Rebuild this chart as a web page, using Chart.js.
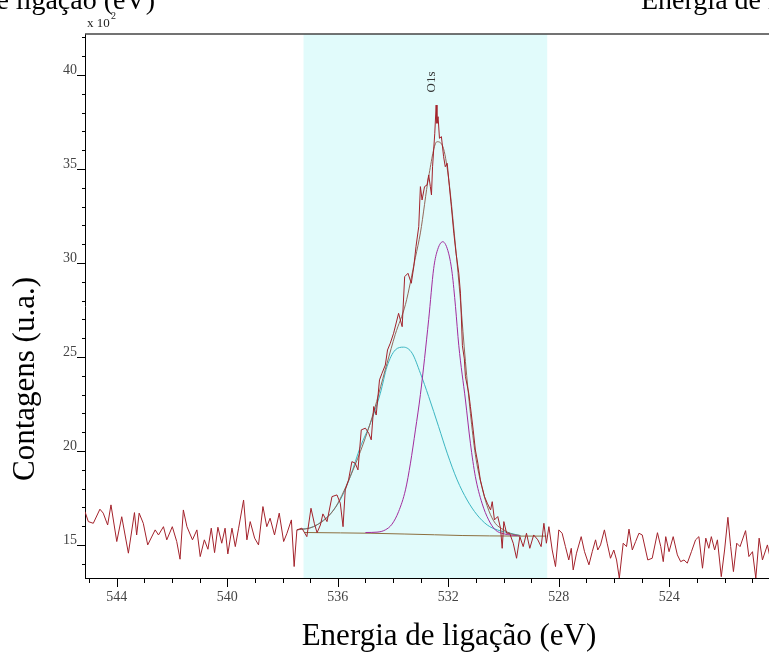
<!DOCTYPE html>
<html>
<head>
<meta charset="utf-8">
<script src="https://cdn.jsdelivr.net/npm/chart.js@4.4.1/dist/chart.umd.min.js"></script>
<style>
  html, body { margin: 0; padding: 0; overflow: hidden; background: #fff; }
  #wrap { width: 815px; height: 653px; }
</style>
</head>
<body>
<div id="wrap"><canvas id="xps" width="815" height="653"></canvas></div>
<script>
// O1s region, binding energy (eV) vs counts (x 10^2)
const rawEnergy = [545.15, 545.03, 544.85, 544.61, 544.49, 544.33, 544.21, 544.00, 543.82, 543.58,
  543.36, 543.28, 543.19, 543.04, 542.88, 542.61, 542.49, 542.31, 542.19, 541.99,
  541.83, 541.71, 541.59, 541.46, 541.26, 541.10, 540.98, 540.83, 540.70, 540.58,
  540.46, 540.34, 540.20, 540.08, 539.98, 539.83, 539.71, 539.59, 539.41, 539.29,
  539.17, 539.01, 538.87, 538.71, 538.57, 538.45, 538.29, 538.12, 537.96, 537.84,
  537.68, 537.58, 537.48, 537.30, 537.12, 536.97, 536.85, 536.75, 536.63, 536.54,
  536.39, 536.21, 536.03, 535.91, 535.81, 535.73, 535.61, 535.49, 535.37, 535.27,
  535.15, 535.00, 534.88, 534.79, 534.70, 534.61, 534.49, 534.40, 534.28, 534.20,
  534.10, 533.98, 533.80, 533.67, 533.58, 533.46, 533.34, 533.25, 533.17, 533.07,
  533.01, 532.95, 532.86, 532.77, 532.71, 532.65, 532.61, 532.57, 532.49, 532.44,
  532.41, 532.37, 532.32, 532.25, 532.17, 532.11, 532.04, 531.96, 531.89, 531.80,
  531.72, 531.62, 531.56, 531.49, 531.42, 531.38, 531.26, 531.20, 531.10, 531.02,
  530.93, 530.84, 530.78, 530.69, 530.59, 530.47, 530.41, 530.33, 530.21, 530.11,
  530.05, 529.99, 529.89, 529.78, 529.65, 529.53, 529.41, 529.29, 529.17, 529.05,
  528.91, 528.76, 528.64, 528.54, 528.45, 528.36, 528.24, 528.12, 528.00, 527.88,
  527.76, 527.64, 527.55, 527.48, 527.36, 527.19, 527.07, 526.91, 526.79, 526.67,
  526.59, 526.49, 526.35, 526.25, 526.13, 526.01, 525.91, 525.81, 525.67, 525.55,
  525.46, 525.34, 525.22, 525.10, 524.98, 524.78, 524.62, 524.43, 524.31, 524.22,
  524.13, 524.01, 523.86, 523.71, 523.59, 523.47, 523.35, 523.20, 523.05, 522.93,
  522.80, 522.68, 522.57, 522.48, 522.36, 522.26, 522.12, 522.00, 521.88, 521.78,
  521.68, 521.56, 521.44, 521.24, 521.12, 520.99, 520.87, 520.75, 520.63, 520.45,
  520.36];
const rawCounts = [16.77, 16.24, 16.15, 16.90, 16.69, 16.06, 17.13, 15.18, 16.50, 14.56,
  16.72, 15.53, 16.69, 16.15, 15.00, 15.80, 15.53, 15.97, 15.27, 15.97,
  15.18, 14.24, 16.86, 15.97, 15.27, 15.80, 14.38, 15.27, 14.77, 15.89,
  14.59, 15.94, 15.09, 15.89, 14.52, 15.89, 14.91, 15.89, 17.39, 15.27,
  16.24, 15.36, 15.00, 17.04, 15.97, 16.42, 15.53, 16.69, 15.18, 15.62,
  16.33, 13.85, 15.80, 15.89, 15.44, 16.95, 16.15, 15.65, 16.06, 16.65,
  16.24, 17.57, 17.66, 17.22, 15.97, 17.93, 18.46, 19.43, 19.35, 18.99,
  21.12, 21.21, 20.94, 20.59, 22.36, 21.91, 23.78, 24.13, 24.57, 25.37,
  25.73, 26.26, 27.32, 26.61, 29.27, 29.45, 28.92, 29.80, 30.87, 31.93,
  34.06, 33.35, 34.06, 34.15, 34.68, 34.06, 33.62, 35.12, 36.90, 38.40,
  37.43, 37.78, 36.63, 36.72, 35.65, 35.12, 35.30, 34.06, 33.00, 31.58,
  30.52, 29.45, 28.39, 25.60, 24.90, 23.95, 23.07, 22.36, 21.12, 20.05,
  19.35, 18.46, 18.10, 17.57, 17.22, 16.86, 17.30, 16.33, 16.51, 15.89,
  14.82, 16.24, 15.62, 15.62, 15.09, 14.29, 15.44, 14.91, 15.62, 14.82,
  15.53, 15.27, 14.91, 16.15, 15.09, 15.97, 14.73, 13.85, 15.80, 15.62,
  14.91, 14.20, 14.82, 13.67, 14.56, 15.44, 14.64, 13.94, 14.64, 15.27,
  14.73, 15.00, 15.80, 15.09, 14.29, 14.73, 14.20, 13.23, 15.09, 14.91,
  15.84, 14.73, 15.18, 15.62, 15.53, 14.20, 14.29, 15.65, 14.91, 14.11,
  15.44, 14.64, 15.44, 14.47, 14.11, 14.20, 14.03, 14.64, 15.27, 15.44,
  13.76, 15.36, 14.82, 15.44, 14.73, 15.27, 13.31, 14.73, 16.47, 14.91,
  13.58, 15.09, 14.91, 15.76, 14.38, 14.64, 13.23, 15.36, 14.20, 15.00,
  14.38];

// fitted envelope
const envEnergy = [537.48, 536.88, 536.15, 535.55, 534.82, 534.22, 533.92, 533.55, 533.19, 533.01,
  532.71, 532.41, 532.20, 531.99, 531.74, 531.56, 531.38, 531.20, 531.02, 530.78,
  530.54, 530.30, 529.99, 529.75, 529.39];
const envCounts = [15.80, 15.97, 16.86, 18.63, 21.50, 24.65, 26.20, 27.80, 30.30, 31.60,
  34.60, 36.45, 36.20, 34.50, 30.90, 28.00, 24.75, 22.00, 19.80, 18.05,
  16.85, 16.15, 15.80, 15.60, 15.50];

// component 1 (cyan)
const compAEnergy = [537.48, 536.88, 536.51, 536.15, 535.85, 535.55, 535.18, 534.82, 534.46, 534.22,
  533.92, 533.62, 533.31, 533.01, 532.71, 532.35, 532.04, 531.68, 531.32, 530.96,
  530.59, 530.23, 529.75, 529.39];
const compACounts = [15.80, 15.97, 16.33, 16.86, 17.57, 18.63, 20.23, 21.47, 23.07, 24.48,
  25.37, 25.52, 25.20, 24.13, 22.89, 21.29, 19.88, 18.46, 17.39, 16.60,
  16.06, 15.80, 15.62, 15.49];

// component 2 (magenta)
const compBEnergy = [535.00, 534.58, 534.28, 534.04, 533.80, 533.55, 533.37, 533.19, 533.01, 532.71,
  532.53, 532.41, 532.20, 531.99, 531.86, 531.74, 531.62, 531.38, 531.20, 531.02,
  530.78, 530.54, 530.30, 529.99, 529.75, 529.40];
const compBCounts = [15.66, 15.68, 15.80, 16.10, 16.77, 17.93, 19.35, 21.12, 23.00, 27.00,
  29.70, 30.60, 31.13, 30.52, 29.45, 27.68, 25.60, 22.71, 20.41, 18.63,
  17.22, 16.33, 15.80, 15.59, 15.53, 15.48];

// background
const bgEnergy = [537.20, 535.90, 534.80, 533.60, 532.50, 531.50, 530.50, 529.50, 528.45];
const bgCounts = [15.66, 15.64, 15.62, 15.58, 15.54, 15.50, 15.48, 15.47, 15.47];

const region = [537.24, 528.42];
const xTickLabels = [544, 540, 536, 532, 528, 524];
const yTickLabels = [15, 20, 25, 30, 35, 40];
const peakName = 'O1s';
const peakLabelAt = 532.6;

const pts = (xs, ys) => xs.map((x, i) => ({x: x, y: ys[i]}));

const serif = '"Liberation Serif", "Times New Roman", serif';
Chart.defaults.font.family = serif;

const decor = {
  id: 'decor',
  beforeDatasetsDraw(chart) {
    const {ctx, chartArea: a, scales: {x}} = chart;
    const x0 = x.getPixelForValue(region[0]);
    const x1 = x.getPixelForValue(region[1]);
    ctx.save();
    ctx.fillStyle = '#e1fbfb';
    ctx.fillRect(x0, a.top, x1 - x0, a.bottom - a.top);
    ctx.restore();
  },
  afterDraw(chart) {
    const {ctx, chartArea: a, scales: {x, y}} = chart;
    ctx.save();
    // tick marks, long on labelled values
    ctx.strokeStyle = '#000';
    ctx.lineWidth = 1;
    ctx.beginPath();
    x.ticks.forEach(t => {
      const px = Math.round(x.getPixelForValue(t.value)) + 0.5;
      const len = t.value % 4 === 0 ? 9 : 5;
      ctx.moveTo(px, a.bottom);
      ctx.lineTo(px, a.bottom + len);
    });
    y.ticks.forEach(t => {
      const py = Math.round(y.getPixelForValue(t.value)) + 0.5;
      const len = t.value % 5 === 0 ? 8 : 3;
      ctx.moveTo(a.left, py);
      ctx.lineTo(a.left - len, py);
    });
    ctx.stroke();
    // top frame line
    ctx.strokeStyle = '#444';
    ctx.lineWidth = 1.5;
    ctx.beginPath();
    ctx.moveTo(a.left, a.top);
    ctx.lineTo(a.right, a.top);
    ctx.stroke();

    ctx.fillStyle = '#000';
    // captions of the neighbouring figures, cut by the page edge
    ctx.font = '28px ' + serif;
    ctx.textBaseline = 'alphabetic';
    ctx.textAlign = 'right';
    ctx.fillText('Energia de ligação (eV)', 155, 9);
    ctx.textAlign = 'left';
    ctx.fillText('Energia de ligação (eV)', 641, 9);

    // axis titles
    ctx.font = '31px ' + serif;
    ctx.textAlign = 'center';
    ctx.fillText('Energia de ligação (eV)', (a.left + a.right) / 2, 645);
    ctx.save();
    ctx.translate(34, 379);
    ctx.rotate(-Math.PI / 2);
    ctx.fillText('Contagens (u.a.)', 0, 0);
    ctx.restore();

    // multiplier
    ctx.fillStyle = '#222';
    ctx.textAlign = 'left';
    ctx.font = '13px ' + serif;
    ctx.fillText('x 10', 87, 27);
    ctx.font = '10px ' + serif;
    ctx.fillText('2', 111, 19);

    // peak label
    ctx.fillStyle = '#333';
    ctx.font = '13px ' + serif;
    ctx.save();
    ctx.translate(x.getPixelForValue(peakLabelAt), 82);
    ctx.rotate(-Math.PI / 2);
    ctx.textAlign = 'center';
    ctx.textBaseline = 'middle';
    ctx.fillText(peakName, 0, 0);
    ctx.restore();
    ctx.restore();
  }
};

const lineStyle = (color, smooth) => ({
  borderColor: color,
  borderWidth: 1,
  pointRadius: 0,
  fill: false,
  cubicInterpolationMode: smooth ? 'monotone' : 'default',
  tension: 0
});

new Chart(document.getElementById('xps'), {
  type: 'line',
  data: {
    datasets: [
      Object.assign({label: 'Dados', data: pts(rawEnergy, rawCounts)}, lineStyle('#a3222b', false)),
      Object.assign({label: 'Envelope', data: pts(envEnergy, envCounts)}, lineStyle('#93675a', true)),
      Object.assign({label: 'Componente 2', data: pts(compBEnergy, compBCounts)}, lineStyle('#a22c9e', true)),
      Object.assign({label: 'Componente 1', data: pts(compAEnergy, compACounts)}, lineStyle('#3bb6c2', true)),
      Object.assign({label: 'Fundo', data: pts(bgEnergy, bgCounts)}, lineStyle('#8c6f3f', false))
    ]
  },
  options: {
    responsive: false,
    devicePixelRatio: 1,
    animation: false,
    layout: { padding: { left: 25, top: 34, right: 2, bottom: 0 } },
    plugins: {
      legend: { display: false },
      tooltip: { enabled: false }
    },
    scales: {
      x: {
        type: 'linear',
        reverse: true,
        min: 518.8,
        max: 545.15,
        grid: { display: false, drawTicks: false },
        border: { display: true, color: '#000', width: 1 },
        ticks: {
          stepSize: 1,
          includeBounds: false,
          autoSkip: false,
          maxRotation: 0,
          padding: 11,
          color: '#444',
          font: { size: 14 },
          callback: v => xTickLabels.includes(v) ? String(v) : ''
        },
        afterFit(s) { s.height = 75; s.paddingLeft = 0; s.paddingRight = 0; }
      },
      y: {
        min: 13.24,
        max: 42.18,
        grid: { display: false, drawTicks: false },
        border: { display: true, color: '#000', width: 1 },
        ticks: {
          stepSize: 1,
          includeBounds: false,
          autoSkip: false,
          padding: 8,
          labelOffset: -5,
          color: '#444',
          font: { size: 14 },
          callback: v => yTickLabels.includes(v) ? String(v) : ''
        },
        afterFit(s) { s.width = 60; s.paddingTop = 0; s.paddingBottom = 0; }
      }
    }
  },
  plugins: [decor]
});
</script>
</body>
</html>
